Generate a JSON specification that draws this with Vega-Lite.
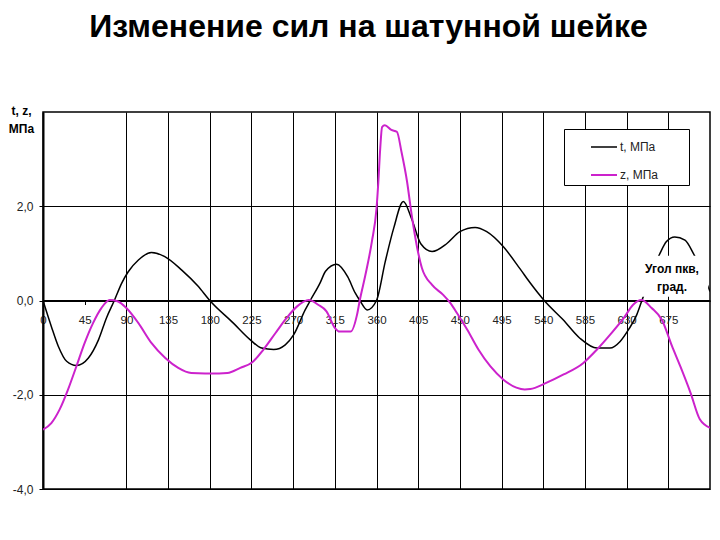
{
  "$schema": "https://vega.github.io/schema/vega-lite/v6.json",
  "width": 667,
  "height": 377,
  "autosize": {"type": "none"},
  "padding": {"left": 43, "top": 112, "right": 10, "bottom": 51},
  "background": "white",
  "config": {
    "font": "Liberation Sans",
    "view": {"stroke": "#000", "strokeWidth": 1.5}
  },
  "title": {
    "text": "Изменение сил на шатунной шейке",
    "fontSize": 32,
    "fontWeight": "bold",
    "color": "#000",
    "anchor": "middle",
    "baseline": "alphabetic",
    "offset": 35,
    "dx": -8
  },
  "data": {
    "values": [
      {"angle": 0, "value": 0, "series": "t, МПа"},
      {"angle": 9, "value": -0.55, "series": "t, МПа"},
      {"angle": 16.5, "value": -0.97, "series": "t, МПа"},
      {"angle": 25.5, "value": -1.29, "series": "t, МПа"},
      {"angle": 36, "value": -1.38, "series": "t, МПа"},
      {"angle": 49, "value": -1.22, "series": "t, МПа"},
      {"angle": 60, "value": -0.83, "series": "t, МПа"},
      {"angle": 68.5, "value": -0.37, "series": "t, МПа"},
      {"angle": 77, "value": 0, "series": "t, МПа"},
      {"angle": 85, "value": 0.37, "series": "t, МПа"},
      {"angle": 92, "value": 0.61, "series": "t, МПа"},
      {"angle": 103, "value": 0.86, "series": "t, МПа"},
      {"angle": 117, "value": 1.02, "series": "t, МПа"},
      {"angle": 131.5, "value": 0.93, "series": "t, МПа"},
      {"angle": 149.5, "value": 0.65, "series": "t, МПа"},
      {"angle": 167.5, "value": 0.3, "series": "t, МПа"},
      {"angle": 180, "value": 0, "series": "t, МПа"},
      {"angle": 205.5, "value": -0.48, "series": "t, МПа"},
      {"angle": 223.5, "value": -0.83, "series": "t, МПа"},
      {"angle": 236, "value": -1.01, "series": "t, МПа"},
      {"angle": 249, "value": -1.04, "series": "t, МПа"},
      {"angle": 261.5, "value": -0.94, "series": "t, МПа"},
      {"angle": 270.5, "value": -0.73, "series": "t, МПа"},
      {"angle": 283, "value": -0.2, "series": "t, МПа"},
      {"angle": 288.5, "value": 0, "series": "t, МПа"},
      {"angle": 299, "value": 0.37, "series": "t, МПа"},
      {"angle": 305, "value": 0.62, "series": "t, МПа"},
      {"angle": 317, "value": 0.77, "series": "t, МПа"},
      {"angle": 329, "value": 0.5, "series": "t, МПа"},
      {"angle": 337, "value": 0.16, "series": "t, МПа"},
      {"angle": 342, "value": 0, "series": "t, МПа"},
      {"angle": 350, "value": -0.2, "series": "t, МПа"},
      {"angle": 360, "value": 0, "series": "t, МПа"},
      {"angle": 369.5, "value": 0.83, "series": "t, МПа"},
      {"angle": 378.5, "value": 1.53, "series": "t, МПа"},
      {"angle": 389, "value": 2.1, "series": "t, МПа"},
      {"angle": 398, "value": 1.73, "series": "t, МПа"},
      {"angle": 408, "value": 1.2, "series": "t, МПа"},
      {"angle": 420, "value": 1.04, "series": "t, МПа"},
      {"angle": 436, "value": 1.21, "series": "t, МПа"},
      {"angle": 450, "value": 1.46, "series": "t, МПа"},
      {"angle": 466.5, "value": 1.55, "series": "t, МПа"},
      {"angle": 479, "value": 1.46, "series": "t, МПа"},
      {"angle": 497, "value": 1.14, "series": "t, МПа"},
      {"angle": 515, "value": 0.67, "series": "t, МПа"},
      {"angle": 526, "value": 0.37, "series": "t, МПа"},
      {"angle": 541, "value": 0, "series": "t, МПа"},
      {"angle": 561.5, "value": -0.41, "series": "t, МПа"},
      {"angle": 579.5, "value": -0.8, "series": "t, МПа"},
      {"angle": 598, "value": -1.01, "series": "t, МПа"},
      {"angle": 612, "value": -1.01, "series": "t, МПа"},
      {"angle": 623, "value": -0.87, "series": "t, МПа"},
      {"angle": 632, "value": -0.62, "series": "t, МПа"},
      {"angle": 641, "value": -0.3, "series": "t, МПа"},
      {"angle": 646.5, "value": 0, "series": "t, МПа"},
      {"angle": 666, "value": 1.0, "series": "t, МПа"},
      {"angle": 673, "value": 1.25, "series": "t, МПа"},
      {"angle": 682, "value": 1.35, "series": "t, МПа"},
      {"angle": 693, "value": 1.28, "series": "t, МПа"},
      {"angle": 702, "value": 1.0, "series": "t, МПа"},
      {"angle": 720, "value": 0.19, "series": "t, МПа"},

      {"angle": 0, "value": -2.74, "series": "z, МПа"},
      {"angle": 9, "value": -2.6, "series": "z, МПа"},
      {"angle": 18, "value": -2.31, "series": "z, МПа"},
      {"angle": 27, "value": -1.89, "series": "z, МПа"},
      {"angle": 36, "value": -1.4, "series": "z, МПа"},
      {"angle": 45, "value": -0.9, "series": "z, МПа"},
      {"angle": 54, "value": -0.48, "series": "z, МПа"},
      {"angle": 63, "value": -0.16, "series": "z, МПа"},
      {"angle": 72, "value": 0.01, "series": "z, МПа"},
      {"angle": 81, "value": -0.02, "series": "z, МПа"},
      {"angle": 90, "value": -0.16, "series": "z, МПа"},
      {"angle": 103, "value": -0.48, "series": "z, МПа"},
      {"angle": 117, "value": -0.9, "series": "z, МПа"},
      {"angle": 132, "value": -1.22, "series": "z, МПа"},
      {"angle": 146, "value": -1.43, "series": "z, МПа"},
      {"angle": 160, "value": -1.54, "series": "z, МПа"},
      {"angle": 175, "value": -1.55, "series": "z, МПа"},
      {"angle": 190, "value": -1.55, "series": "z, МПа"},
      {"angle": 199, "value": -1.54, "series": "z, МПа"},
      {"angle": 213, "value": -1.43, "series": "z, МПа"},
      {"angle": 226, "value": -1.31, "series": "z, МПа"},
      {"angle": 238, "value": -1.04, "series": "z, МПа"},
      {"angle": 251, "value": -0.69, "series": "z, МПа"},
      {"angle": 263, "value": -0.37, "series": "z, МПа"},
      {"angle": 274, "value": -0.13, "series": "z, МПа"},
      {"angle": 287, "value": 0.01, "series": "z, МПа"},
      {"angle": 297, "value": -0.09, "series": "z, МПа"},
      {"angle": 306, "value": -0.23, "series": "z, МПа"},
      {"angle": 315, "value": -0.58, "series": "z, МПа"},
      {"angle": 320, "value": -0.66, "series": "z, МПа"},
      {"angle": 332, "value": -0.66, "series": "z, МПа"},
      {"angle": 339, "value": -0.3, "series": "z, МПа"},
      {"angle": 342, "value": 0.01, "series": "z, МПа"},
      {"angle": 348, "value": 0.54, "series": "z, МПа"},
      {"angle": 355, "value": 1.25, "series": "z, МПа"},
      {"angle": 360, "value": 1.95, "series": "z, МПа"},
      {"angle": 362, "value": 2.52, "series": "z, МПа"},
      {"angle": 364, "value": 3.22, "series": "z, МПа"},
      {"angle": 366, "value": 3.68, "series": "z, МПа"},
      {"angle": 369, "value": 3.72, "series": "z, МПа"},
      {"angle": 376, "value": 3.62, "series": "z, МПа"},
      {"angle": 382, "value": 3.58, "series": "z, МПа"},
      {"angle": 387, "value": 3.15, "series": "z, МПа"},
      {"angle": 393, "value": 2.52, "series": "z, МПа"},
      {"angle": 398, "value": 1.81, "series": "z, МПа"},
      {"angle": 404, "value": 1.11, "series": "z, МПа"},
      {"angle": 409, "value": 0.69, "series": "z, МПа"},
      {"angle": 420, "value": 0.33, "series": "z, МПа"},
      {"angle": 432, "value": 0.12, "series": "z, МПа"},
      {"angle": 440, "value": -0.06, "series": "z, МПа"},
      {"angle": 447, "value": -0.27, "series": "z, МПа"},
      {"angle": 458, "value": -0.62, "series": "z, МПа"},
      {"angle": 470, "value": -1.04, "series": "z, МПа"},
      {"angle": 483, "value": -1.4, "series": "z, МПа"},
      {"angle": 497, "value": -1.68, "series": "z, МПа"},
      {"angle": 511, "value": -1.85, "series": "z, МПа"},
      {"angle": 520, "value": -1.89, "series": "z, МПа"},
      {"angle": 526, "value": -1.88, "series": "z, МПа"},
      {"angle": 542, "value": -1.76, "series": "z, МПа"},
      {"angle": 562, "value": -1.57, "series": "z, МПа"},
      {"angle": 583, "value": -1.33, "series": "z, МПа"},
      {"angle": 598, "value": -1.04, "series": "z, МПа"},
      {"angle": 612, "value": -0.73, "series": "z, МПа"},
      {"angle": 627, "value": -0.37, "series": "z, МПа"},
      {"angle": 637, "value": -0.09, "series": "z, МПа"},
      {"angle": 646, "value": 0.01, "series": "z, МПа"},
      {"angle": 657, "value": -0.16, "series": "z, МПа"},
      {"angle": 668, "value": -0.41, "series": "z, МПа"},
      {"angle": 679, "value": -0.97, "series": "z, МПа"},
      {"angle": 688, "value": -1.4, "series": "z, МПа"},
      {"angle": 699, "value": -1.96, "series": "z, МПа"},
      {"angle": 709, "value": -2.52, "series": "z, МПа"},
      {"angle": 720, "value": -2.7, "series": "z, МПа"}
    ]
  },
  "layer": [
    {
      "mark": {"type": "line", "interpolate": "monotone", "clip": true},
      "encoding": {
        "x": {
          "field": "angle",
          "type": "quantitative",
          "scale": {"domain": [0, 720], "nice": false, "zero": false},
          "axis": {
            "orient": "bottom",
            "offset": -188.5,
            "title": null,
            "values": [0, 45, 90, 135, 180, 225, 270, 315, 360, 405, 450, 495, 540, 585, 630, 675],
            "labelFlush": false,
            "labelOverlap": false,
            "labelFontSize": 11.5,
            "labelColor": "#222",
            "labelPadding": 10,
            "domainColor": "#000",
            "domainWidth": 2,
            "tickColor": "#000",
            "tickSize": 4,
            "tickWidth": 1,
            "grid": true,
            "gridColor": "#000",
            "gridWidth": 1,
            "gridOpacity": {"condition": {"test": "datum.value === 45", "value": 0}, "value": 1}
          }
        },
        "y": {
          "field": "value",
          "type": "quantitative",
          "scale": {"domain": [-4, 4], "nice": false},
          "axis": {
            "values": [-4, -2, 0, 2],
            "labelExpr": "(datum.value < 0 ? '-' : '') + replace(format(abs(datum.value), '.1f'), '.', ',')",
            "labelFontSize": 12,
            "labelColor": "#222",
            "labelPadding": 6,
            "domainColor": "#000",
            "domainWidth": 2,
            "tickColor": "#000",
            "tickSize": 4,
            "grid": true,
            "gridColor": "#000",
            "gridWidth": 1,
            "gridOpacity": 1,
            "title": ["t, z,", "МПа"],
            "titleAngle": 0,
            "titleFontSize": 12,
            "titleFontWeight": "bold",
            "titleColor": "#000",
            "titleAlign": "center",
            "titleBaseline": "top",
            "titleLineHeight": 18,
            "titleX": -22,
            "titleY": -7
          }
        },
        "color": {
          "field": "series",
          "type": "nominal",
          "scale": {"domain": ["t, МПа", "z, МПа"], "range": ["#000000", "#cc22cc"]},
          "legend": {
            "orient": "none",
            "legendX": 521,
            "legendY": 17,
            "title": null,
            "fillColor": "white",
            "strokeColor": "#000",
            "padding": 4,
            "rowPadding": 8,
            "symbolType": "stroke",
            "symbolSize": 676,
            "symbolStrokeWidth": 1.5,
            "symbolOffset": 22,
            "labelOffset": 2,
            "labelFontSize": 12,
            "labelColor": "#222",
            "labelExpr": "datum.label + '\u2800\u2800\u2800'"
          }
        },
        "strokeWidth": {
          "field": "series",
          "type": "nominal",
          "scale": {"domain": ["t, МПа", "z, МПа"], "range": [1.5, 2]},
          "legend": null
        }
      }
    },
    {
      "data": {"values": [{}]},
      "mark": {"type": "rect", "fill": "white"},
      "encoding": {
        "x": {"datum": 641, "type": "quantitative"},
        "x2": {"datum": 718},
        "y": {"datum": 0.08, "type": "quantitative"},
        "y2": {"datum": 0.95}
      }
    },
    {
      "data": {"values": [{}]},
      "mark": {
        "type": "text",
        "text": ["Угол пкв,", "град."],
        "fontSize": 12,
        "fontWeight": "bold",
        "fill": "#000",
        "align": "center",
        "baseline": "middle",
        "lineHeight": 18
      },
      "encoding": {
        "x": {"datum": 679, "type": "quantitative"},
        "y": {"datum": 0.67, "type": "quantitative"}
      }
    }
  ]
}
